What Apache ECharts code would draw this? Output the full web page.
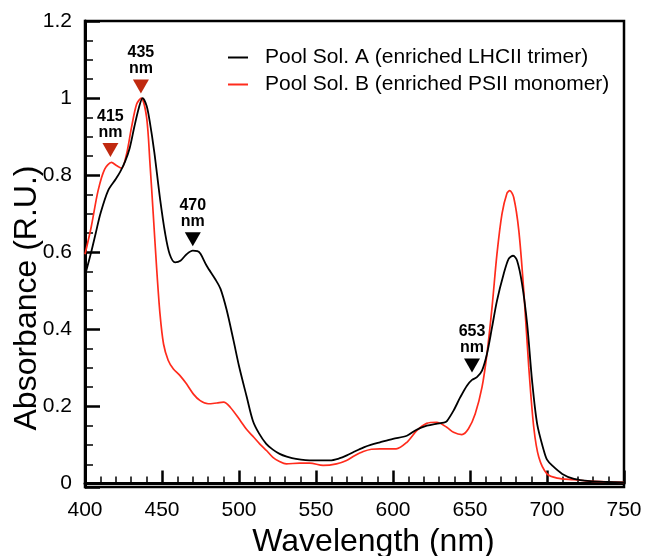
<!DOCTYPE html>
<html>
<head>
<meta charset="utf-8">
<script src="https://cdn.jsdelivr.net/npm/echarts@6/dist/echarts.min.js"></script>
<style>
html,body{margin:0;padding:0;background:#fff;}
#chart{width:646px;height:556px;}
</style>
</head>
<body>
<div id="chart"></div>
<script>
// Pool Sol. A (black)
const wavelengthsA = [400,404,407,410,415,420,423,426,429,432,435,437.4,440,442,445,448.7,452,455,458.5,462,466,470,473,475,479,484.6,488,492,496.5,500,505,509,513,517.7,522,526.4,531,537,548,559,565,570,575,581,586,591.5,600,609,615,622,628,633,635,639.3,643.7,648,651.3,654.5,657.8,661,664.3,667.5,671.9,675.1,678,680.6,683.8,687.1,690.3,693.6,697.9,700,703.3,709.9,717.5,728,739,750];
const absorbanceA = [0.54,0.60,0.65,0.70,0.76,0.79,0.81,0.835,0.87,0.925,0.975,1.0,0.98,0.94,0.86,0.74,0.65,0.595,0.574,0.578,0.595,0.604,0.603,0.596,0.565,0.53,0.505,0.45,0.37,0.305,0.225,0.163,0.13,0.103,0.088,0.077,0.07,0.064,0.060,0.060,0.065,0.073,0.083,0.094,0.101,0.107,0.116,0.124,0.139,0.150,0.155,0.158,0.162,0.189,0.224,0.254,0.269,0.276,0.293,0.336,0.405,0.474,0.544,0.583,0.591,0.578,0.518,0.414,0.267,0.155,0.086,0.062,0.047,0.025,0.012,0.006,0.004,0.003];

// Pool Sol. B (red)
const wavelengthsB = [400,404,408.5,412.8,417.2,420.4,423.7,427,430.2,433.5,436.5,440,442.2,444.3,446.5,448.7,451,454,457.4,461.7,466,470.4,474.8,480,485.6,490,494.3,500.9,505,509.6,513.4,518,522,526,530.7,539.4,546,554.6,563.3,569.8,575,580.7,586,591.5,602,609,615.4,621.9,628.4,634.9,639.3,644.7,649,653.4,657.8,661,664.3,667.5,670.8,674,675.8,678.4,681.7,684.9,688.2,691.4,694.7,700,706.6,717.5,728,740,750];
const absorbanceB = [0.595,0.665,0.76,0.816,0.833,0.825,0.818,0.855,0.924,0.984,1.0,0.95,0.83,0.70,0.56,0.44,0.362,0.32,0.297,0.28,0.258,0.232,0.215,0.207,0.209,0.211,0.198,0.163,0.14,0.12,0.103,0.085,0.068,0.058,0.051,0.053,0.053,0.047,0.051,0.06,0.072,0.083,0.089,0.09,0.09,0.107,0.137,0.156,0.159,0.146,0.133,0.127,0.142,0.181,0.25,0.336,0.457,0.595,0.70,0.753,0.76,0.742,0.656,0.50,0.30,0.146,0.068,0.025,0.014,0.01,0.006,0.004,0.003];

// Peak markers
const markerNm = [416.5, 436.3, 470, 651.3];
const markerY = [0.865, 1.03, 0.634, 0.306];
const markerLabels = ['415\nnm', '435\nnm', '470\nnm', '653\nnm'];
const markerColors = ['#c0290f', '#c0290f', '#000000', '#000000'];

const seriesNames = ['Pool Sol. A (enriched LHCII trimer)', 'Pool Sol. B (enriched PSII monomer)'];

const FONT = '"Liberation Sans", Arial, Helvetica, sans-serif';

const pairs = (xs, ys) => xs.map((x, i) => [x, ys[i]]);

const chart = echarts.init(document.getElementById('chart'), null, {renderer: 'canvas'});
chart.setOption({
  animation: false,
  backgroundColor: '#fff',
  textStyle: {fontFamily: FONT},
  grid: {left: 85, right: 22, top: 21, bottom: 69, containLabel: false, outerBoundsMode: 'none',
    show: true, borderColor: '#000', borderWidth: 2.5, backgroundColor: 'transparent'},
  legend: {
    data: seriesNames,
    orient: 'vertical',
    left: 223,
    top: 42,
    itemWidth: 20,
    itemHeight: 2,
    itemGap: 6,
    icon: 'rect',
    textStyle: {fontFamily: FONT, fontSize: 21, color: '#000', padding: [0, 0, 0, 12]}
  },
  xAxis: {
    type: 'value',
    min: 400, max: 750, interval: 50,
    name: 'Wavelength (nm)',
    nameLocation: 'middle',
    nameGap: 32,
    nameTextStyle: {fontFamily: FONT, fontSize: 32, color: '#000', padding: [0, 0, 0, 38]},
    axisLine: {show: true, lineStyle: {color: '#000', width: 3}},
    axisTick: {show: true, inside: true, length: 13, lineStyle: {color: '#000', width: 2.5}},
    minorTick: {show: true, splitNumber: 5, length: 7, lineStyle: {color: '#000', width: 1.5}},
    axisLabel: {fontFamily: FONT, fontSize: 21, color: '#000', margin: 13},
    splitLine: {show: false}
  },
  yAxis: {
    type: 'value',
    min: -0.009, max: 1.2, splitNumber: 6,
    name: 'Absorbance (R.U.)',
    nameLocation: 'middle',
    nameGap: 42,
    nameMoveOverlap: false,
    nameTextStyle: {fontFamily: FONT, fontSize: 32, color: '#000', padding: [0, 88, 0, 0]},
    axisLine: {show: true, lineStyle: {color: '#000', width: 3}},
    axisTick: {show: true, inside: true, length: 15, lineStyle: {color: '#000', width: 2.5}},
    minorTick: {show: true, splitNumber: 4, length: 8, lineStyle: {color: '#000', width: 1.5}},
    axisLabel: {fontFamily: FONT, fontSize: 21, color: '#000', margin: 13, showMinLabel: false,
      formatter: v => (Math.abs(v * 10 - Math.round(v * 10)) < 1e-6 ? String(Math.round(v * 10) / 10) : '')},
    splitLine: {show: false}
  },
  series: [
    {
      name: seriesNames[0], type: 'line', data: pairs(wavelengthsA, absorbanceA),
      showSymbol: false, smooth: 0.3, color: '#000000',
      lineStyle: {color: '#000000', width: 1.8}, z: 3
    },
    {
      name: seriesNames[1], type: 'line', data: pairs(wavelengthsB, absorbanceB),
      showSymbol: false, smooth: 0.3, color: '#ff2b1c',
      lineStyle: {color: '#ff2b1c', width: 1.7}, z: 2
    },
    {
      name: 'markers', type: 'scatter',
      data: markerNm.map((x, i) => ({value: [x, markerY[i]], itemStyle: {color: markerColors[i], opacity: 1},
        label: {formatter: markerLabels[i]}})),
      symbol: 'triangle', symbolRotate: 180, symbolSize: [16, 14],
      itemStyle: {opacity: 1},
      label: {show: true, position: 'top', distance: 3, fontFamily: FONT, fontWeight: 'bold',
        fontSize: 16, lineHeight: 16, color: '#000', opacity: 1},
      z: 5
    }
  ]
});
</script>
</body>
</html>
